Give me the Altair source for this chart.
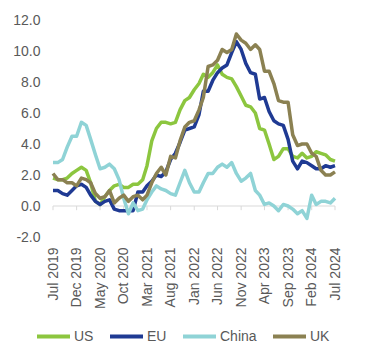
import altair as alt
import pandas as pd

# Monthly, Jul 2019 .. Jul 2024
months = pd.date_range("2019-07-01", periods=61, freq="MS")

us = [1.8, 1.7, 1.7, 1.8, 2.1, 2.3,
      2.5, 2.3, 1.5, 0.3, 0.1, 0.6, 1.0, 1.3, 1.4, 1.2, 1.2, 1.4,
      1.4, 1.7, 2.6, 4.2, 5.0, 5.4, 5.4, 5.3, 5.4, 6.2, 6.8, 7.0,
      7.5, 7.9, 8.5, 8.3, 8.6, 9.1, 8.5, 8.3, 8.2, 7.7, 7.1, 6.5,
      6.4, 6.0, 5.0, 4.9, 4.0, 3.0, 3.2, 3.7, 3.7, 3.2, 3.1, 3.4,
      3.1, 3.2, 3.5, 3.4, 3.3, 3.0, 2.9]
eu = [1.0, 1.0, 0.8, 0.7, 1.0, 1.3,
      1.4, 1.2, 0.7, 0.3, 0.1, 0.3, 0.4, -0.2, -0.3, -0.3, -0.3, -0.3,
      0.9, 0.9, 1.3, 1.6, 2.0, 1.9, 2.2, 3.0, 3.4, 4.1, 4.9, 5.0,
      5.1, 5.9, 7.4, 7.4, 8.1, 8.6, 8.9, 9.1, 9.9, 10.6, 10.1, 9.2,
      8.6, 8.5, 6.9, 7.0, 6.1, 5.5, 5.3, 5.2, 4.3, 2.9, 2.4, 2.9,
      2.8, 2.6, 2.4, 2.4, 2.6, 2.5, 2.6]
china = [2.8, 2.8, 3.0, 3.8, 4.5, 4.5,
         5.4, 5.2, 4.3, 3.3, 2.4, 2.5, 2.7, 2.4, 1.7, 0.5, -0.5, 0.2,
         -0.3, -0.2, 0.4, 0.9, 1.3, 1.1, 1.0, 0.8, 0.7, 1.5, 2.3, 1.5,
         0.9, 0.9, 1.5, 2.1, 2.1, 2.5, 2.7, 2.5, 2.8, 2.1, 1.6, 1.8,
         2.1, 1.0, 0.7, 0.1, 0.2, 0.0, -0.3, 0.1, 0.0, -0.2, -0.5, -0.3,
         -0.8, 0.7, 0.1, 0.3, 0.3, 0.2, 0.5]
uk = [2.1, 1.7, 1.7, 1.5, 1.5, 1.3,
      1.8, 1.7, 1.5, 0.8, 0.5, 0.6, 1.0, 0.2, 0.5, 0.7, 0.3, 0.6,
      0.7, 0.4, 0.7, 1.5, 2.1, 2.5, 2.0, 3.2, 3.1, 4.2, 5.1, 5.4,
      5.5, 6.2, 7.0, 9.0, 9.1, 9.4, 10.1, 9.9, 10.1, 11.1, 10.7, 10.5,
      10.1, 10.4, 10.1, 8.7, 8.7, 7.9, 6.8, 6.7, 6.7, 4.6, 3.9, 4.0,
      4.0, 3.4, 3.2, 2.3, 2.0, 2.0, 2.2]

series_names = ["US", "EU", "China", "UK"]
series_colors = ["#8cc63f", "#1f3a93", "#8fd3d6", "#8b8152"]
y_ticks = [-2, 0, 2, 4, 6, 8, 10, 12]
tick_dates = months[::5]

rows = []
for name, vals in zip(series_names, [us, eu, china, uk]):
    for d, v in zip(months, vals):
        rows.append({"date": d, "series": name, "value": v})
df = pd.DataFrame(rows)
ticks_df = pd.DataFrame({"date": tick_dates})
zero_df = pd.DataFrame({"v": [0]})

FONT = "Liberation Sans"
GREY = "#595959"

x_axis = alt.Axis(
    values=[alt.DateTime(year=int(d.year), month=int(d.month), date=1) for d in tick_dates],
    format="%b %Y", labelAngle=-90, domain=False, ticks=False, grid=False,
    labelPadding=10, title=None, labelOverlap=False, labelFlush=False,
    labelFont=FONT, labelFontSize=14, labelColor=GREY,
)
y_axis = alt.Axis(
    values=y_ticks, labelExpr="replace(format(datum.value, '.1f'), '\u2212', '-')",
    domain=False, ticks=False, grid=False, labelPadding=13, title=None,
    labelFont=FONT, labelFontSize=14, labelColor=GREY,
)
x_scale = alt.Scale(nice=False)
y_scale = alt.Scale(domain=[-2, 12], nice=False)

zero = alt.Chart(zero_df).mark_rule(color="#d9d9d9", strokeWidth=1).encode(
    y=alt.Y("v:Q", scale=y_scale, axis=y_axis)
)
ticks = alt.Chart(ticks_df).mark_rule(color="#d9d9d9", strokeWidth=1).encode(
    x=alt.X("date:T", scale=x_scale, axis=x_axis),
    y=alt.Y(datum=0, scale=y_scale, axis=y_axis),
    y2=alt.Y2(datum=-0.27),
)
lines = alt.Chart(df).mark_line(strokeWidth=3.5, strokeJoin="round").encode(
    x=alt.X("date:T", scale=x_scale, axis=x_axis),
    y=alt.Y("value:Q", scale=y_scale, axis=y_axis),
    color=alt.Color(
        "series:N",
        scale=alt.Scale(domain=series_names, range=series_colors),
        legend=alt.Legend(
            orient="none", legendX=-18, legendY=298, direction="horizontal",
            columns=4, gridAlign="none", title=None, symbolType="stroke",
            symbolSize=1089, symbolStrokeWidth=4, labelFont=FONT,
            labelFontSize=14, labelColor=GREY, columnPadding=8, labelOffset=2,
        ),
    ),
    detail="series:N",
)

chart = alt.layer(zero, ticks, lines).properties(
    width=282, height=217,
    padding={"left": 53, "top": 20, "right": 32, "bottom": 119},
    autosize=alt.AutoSizeParams(type="none"),
    background="white",
).configure_view(stroke=None)

chart.save("out.html", embed_options={"renderer": "svg", "actions": False})
